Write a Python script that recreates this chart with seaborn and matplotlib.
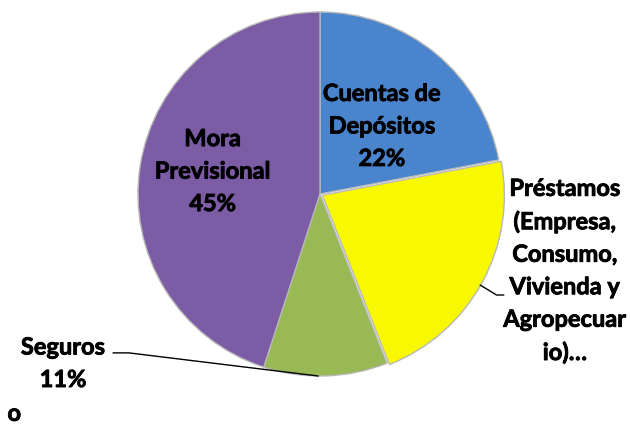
import numpy as np
import matplotlib
matplotlib.use("Agg")
import matplotlib.pyplot as plt
import matplotlib.patheffects as pe
import seaborn as sns

# Data
labels = ['Cuentas de\nDepósitos', 'Préstamos\n(Empresa,\nConsumo,\nVivienda y\nAgropecuar\nio)…', 'Seguros', 'Mora\nPrevisional']
shares = [22, 22, 11, 45]
colors = ['#4a84cc', '#f8f800', '#98b954', '#7b5ca5']

sns.set_theme(style='white')
plt.rcParams['font.family'] = ['Lato', 'DejaVu Sans']

fig = plt.figure(figsize=(6.3, 4.27), dpi=100)
ax = fig.add_axes([0, 0, 1, 1])

wedges, _ = ax.pie(shares, colors=colors, startangle=90, counterclock=False,
                   radius=1.0, explode=[0, 0.015, 0, 0],
                   wedgeprops=dict(edgecolor='#b8b8b8', linewidth=1.0))

ax.set_aspect('equal')
ax.set_xlim(-320 / 182, 310 / 182)
ax.set_ylim(-232 / 182, 195 / 182)
ax.axis('off')

tkw = dict(fontsize=17, fontweight='bold', ha='center', va='center', linespacing=1.5, color='black',
           path_effects=[pe.withStroke(linewidth=0.6, foreground='black')])

# inside labels
ax.text(0.34, 0.374, f'{labels[0]}\n{shares[0]}%', **tkw)
ax.text(-0.59, 0.126, f'{labels[3]}\n{shares[3]}%', **tkw)

# outside labels with leader lines
ax.text(1.345, -0.42, labels[1], **tkw)
ax.plot([0.88, 0.97, 1.01], [-0.50, -0.555, -0.555], color='black', lw=1)

ax.text(-1.412, -0.93, f'{labels[2]}\n{shares[2]}%', **tkw)
ax.plot([-0.01, -1.05, -1.137], [-1.0, -0.873, -0.873], color='black', lw=1)

ax.text(-1.68, -1.205, 'o', **tkw)

plt.savefig('out.png', dpi=100)
